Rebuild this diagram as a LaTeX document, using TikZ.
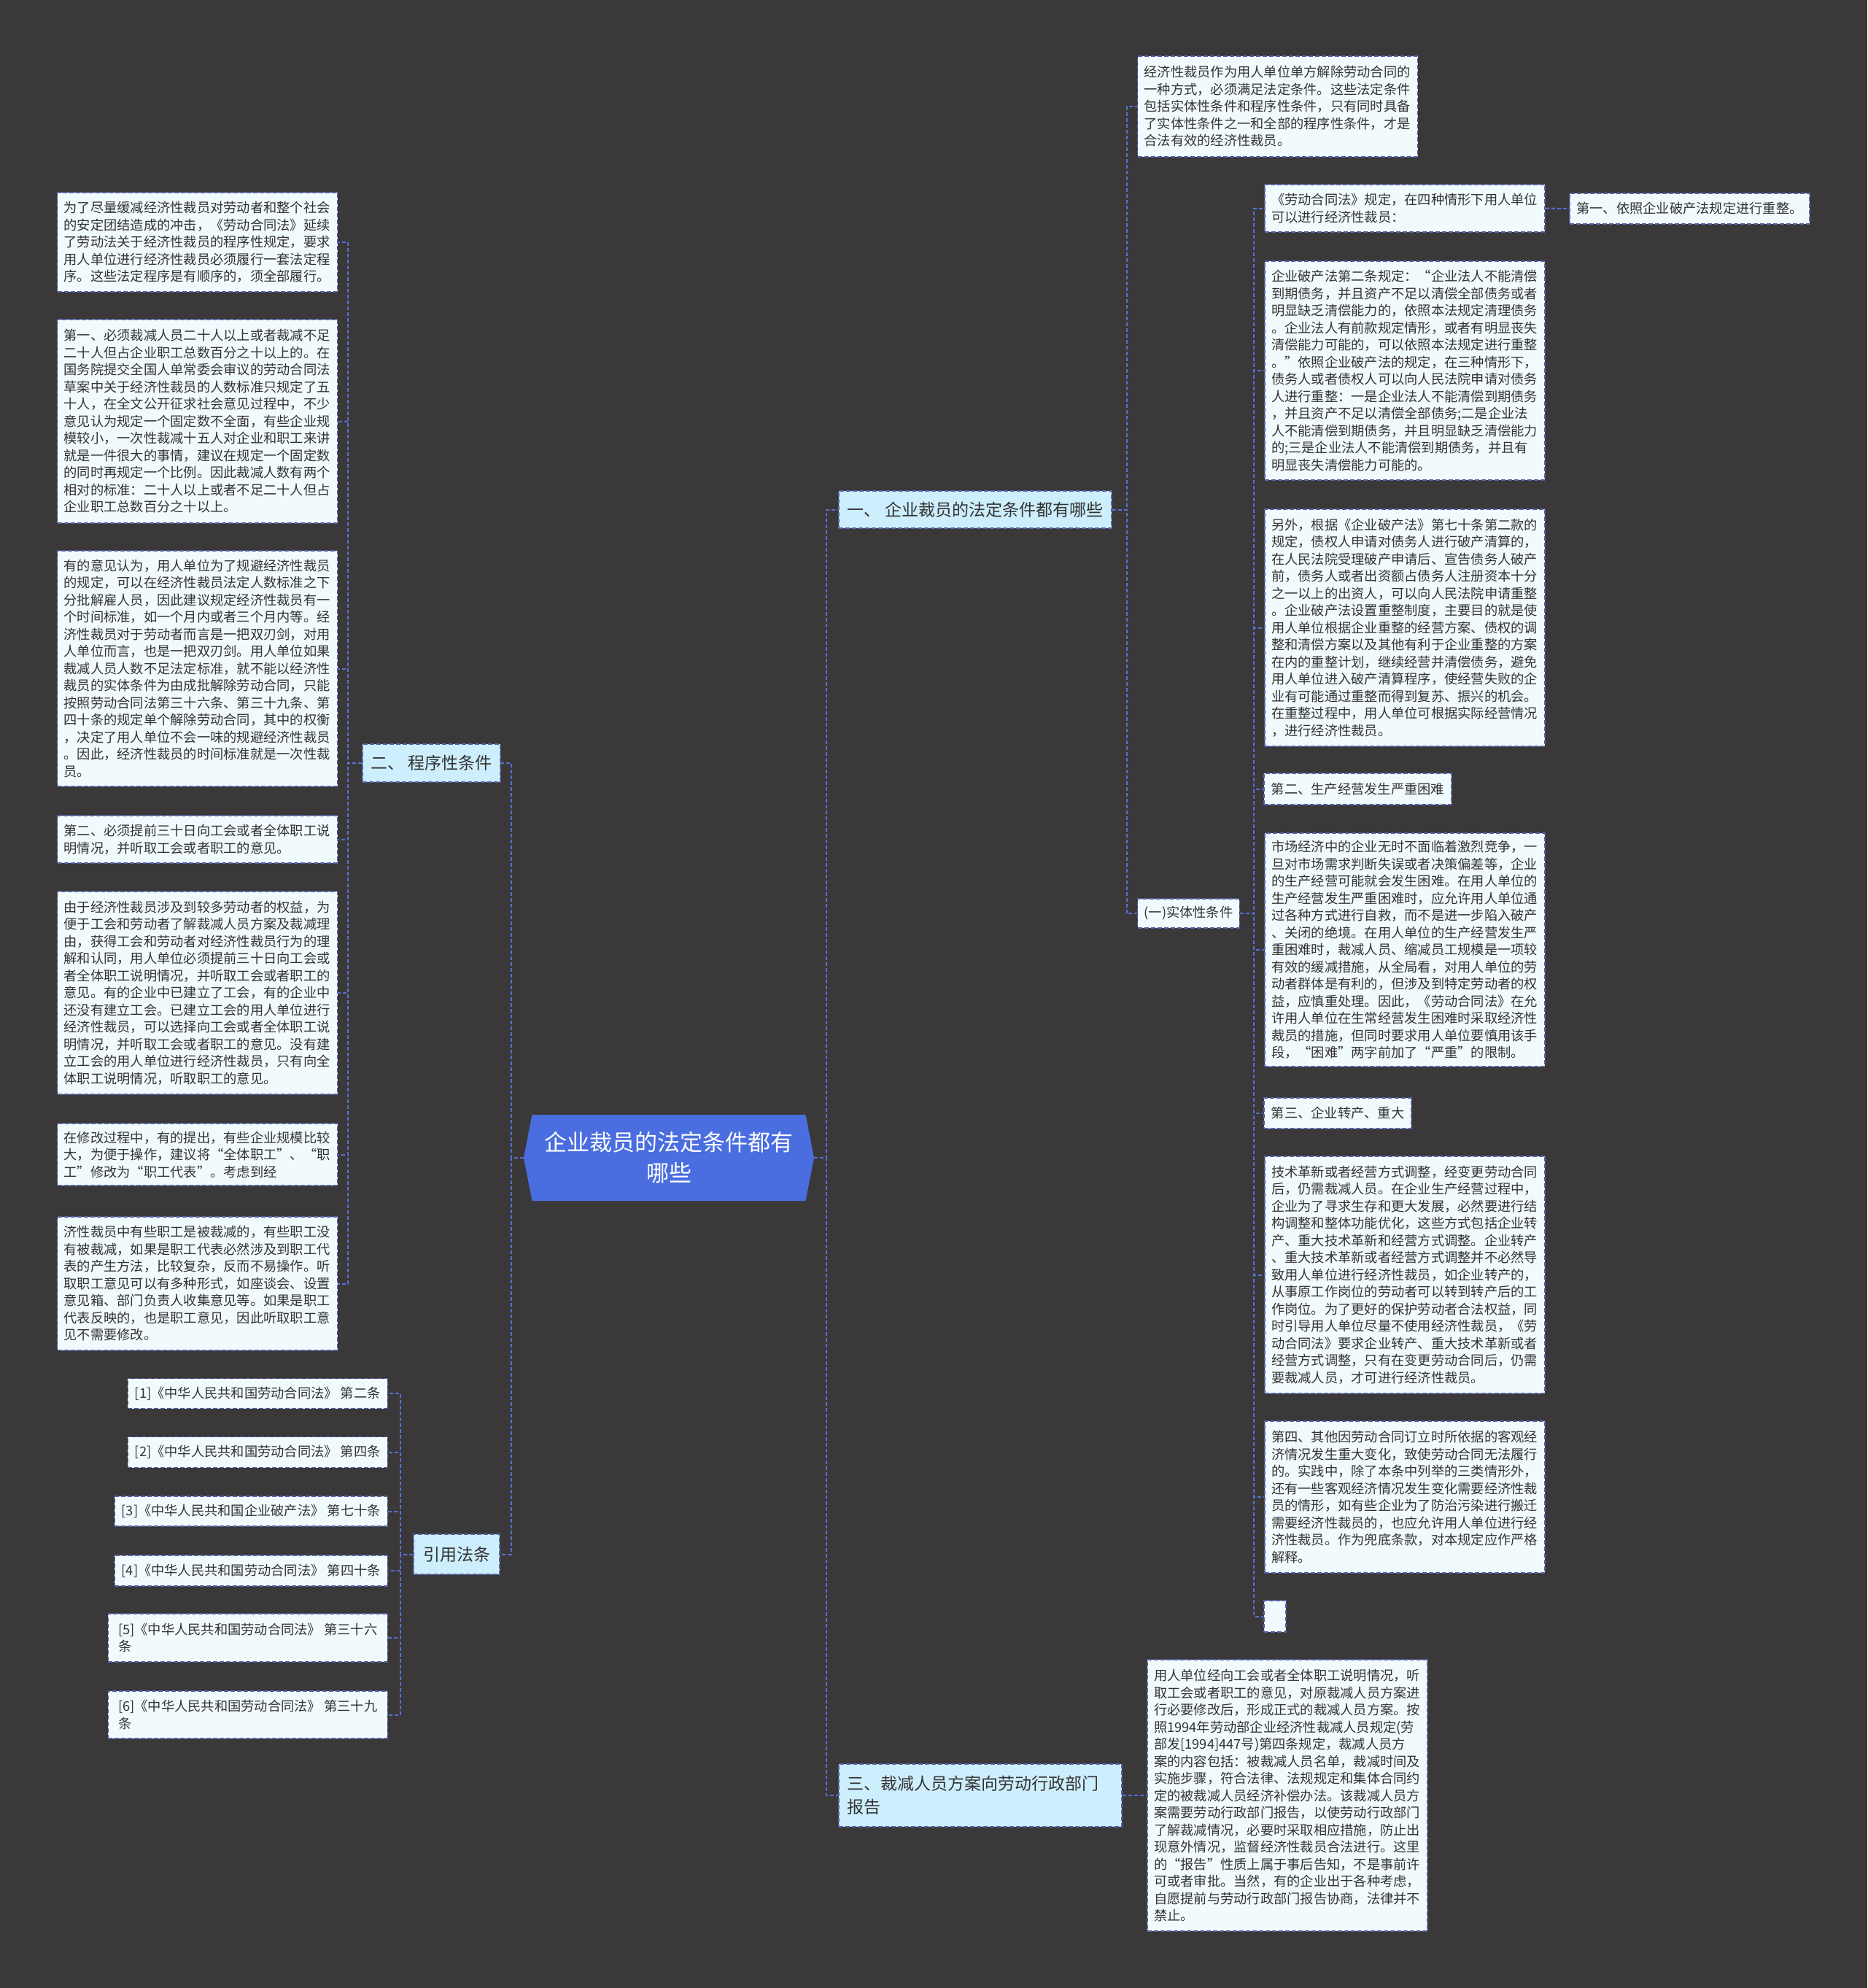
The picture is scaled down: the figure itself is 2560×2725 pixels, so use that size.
\documentclass[tikz,border=0pt]{standalone}
\usepackage{fontspec}
\setmainfont{Noto Sans CJK SC}
\usetikzlibrary{shapes.symbols}
\definecolor{bg}{HTML}{3A3839}
\definecolor{leaff}{HTML}{F1FAFD}
\definecolor{branchf}{HTML}{CDEEFC}
\definecolor{bordc}{HTML}{5563A8}
\definecolor{linec}{HTML}{5671D6}
\definecolor{centf}{HTML}{4A6EE0}
\definecolor{txt}{HTML}{333333}
\newcommand\leaffont{\fontsize{18.25}{23.5}\selectfont}
\newcommand\branchfont{\fontsize{23}{32}\selectfont}
\newcommand\centfont{\fontsize{31}{42}\selectfont}
\begin{document}
\begin{tikzpicture}[x=1pt,y=-1pt,
 box/.style={draw=bordc, line width=1.5pt, dash pattern=on 6pt off 3pt, text=txt, inner xsep=9pt, inner ysep=4pt},
 leaf/.style={box, fill=leaff, font=\leaffont, align=left, text width=366pt},
 small/.style={box, fill=leaff, font=\leaffont, align=left},
 branch/.style={box, fill=branchf, font=\branchfont, align=left},
 conn/.style={draw=linec, line width=2pt, dash pattern=on 5pt off 3pt},
]
\fill[bg] (0,0) rectangle (2560,2725);
\useasboundingbox (0,0) rectangle (2560,2725);

% centre
\node[signal, signal to=west and east, signal pointer angle=158, fill=centf, text=white, font=\centfont, align=center, minimum width=398pt, minimum height=118pt, inner sep=0pt] (C) at (917,1587) {企业裁员的法定条件都有\\哪些};

% branches
\node[branch, minimum width=374pt, minimum height=51pt] (B1) at (1337,698.5) {一、 企业裁员的法定条件都有哪些};
\node[branch, minimum width=189pt, minimum height=52pt] (B2) at (591.5,1046) {二、 程序性条件};
\node[branch, minimum width=118pt, minimum height=55pt] (B4) at (626,2130.5) {引用法条};
\node[branch, text width=366pt, inner xsep=11pt, minimum height=86pt] (B3) at (1344,2461) {三、裁减人员方案向劳动行政部门\\报告};

% left leaves
\node[leaf, minimum height=136pt] (L1) at (270.5,332) {为了尽量缓减经济性裁员对劳动者和整个社会\\的安定团结造成的冲击，《劳动合同法》延续\\了劳动法关于经济性裁员的程序性规定，要求\\用人单位进行经济性裁员必须履行一套法定程\\序。这些法定程序是有顺序的，须全部履行。};
\node[leaf, minimum height=279pt] (L2) at (270.5,577.5) {第一、必须裁减人员二十人以上或者裁减不足\\二十人但占企业职工总数百分之十以上的。在\\国务院提交全国人单常委会审议的劳动合同法\\草案中关于经济性裁员的人数标准只规定了五\\十人，在全文公开征求社会意见过程中，不少\\意见认为规定一个固定数不全面，有些企业规\\模较小，一次性裁减十五人对企业和职工来讲\\就是一件很大的事情，建议在规定一个固定数\\的同时再规定一个比例。因此裁减人数有两个\\相对的标准：二十人以上或者不足二十人但占\\企业职工总数百分之十以上。};
\node[leaf, minimum height=323pt] (L3) at (270.5,916.5) {有的意见认为，用人单位为了规避经济性裁员\\的规定，可以在经济性裁员法定人数标准之下\\分批解雇人员，因此建议规定经济性裁员有一\\个时间标准，如一个月内或者三个月内等。经\\济性裁员对于劳动者而言是一把双刃剑，对用\\人单位而言，也是一把双刃剑。用人单位如果\\裁减人员人数不足法定标准，就不能以经济性\\裁员的实体条件为由成批解除劳动合同，只能\\按照劳动合同法第三十六条、第三十九条、第\\四十条的规定单个解除劳动合同，其中的权衡\\，决定了用人单位不会一味的规避经济性裁员\\。因此，经济性裁员的时间标准就是一次性裁\\员。};
\node[leaf, minimum height=65pt] (L4) at (270.5,1150.5) {第二、必须提前三十日向工会或者全体职工说\\明情况，并听取工会或者职工的意见。};
\node[leaf, minimum height=278pt] (L5) at (270.5,1361) {由于经济性裁员涉及到较多劳动者的权益，为\\便于工会和劳动者了解裁减人员方案及裁减理\\由，获得工会和劳动者对经济性裁员行为的理\\解和认同，用人单位必须提前三十日向工会或\\者全体职工说明情况，并听取工会或者职工的\\意见。有的企业中已建立了工会，有的企业中\\还没有建立工会。已建立工会的用人单位进行\\经济性裁员，可以选择向工会或者全体职工说\\明情况，并听取工会或者职工的意见。没有建\\立工会的用人单位进行经济性裁员，只有向全\\体职工说明情况，听取职工的意见。};
\node[leaf, minimum height=85pt] (L6) at (270.5,1582.5) {在修改过程中，有的提出，有些企业规模比较\\大，为便于操作，建议将“全体职工”、“职\\工”修改为“职工代表”。考虑到经};
\node[leaf, minimum height=183pt] (L7) at (270.5,1759.5) {济性裁员中有些职工是被裁减的，有些职工没\\有被裁减，如果是职工代表必然涉及到职工代\\表的产生方法，比较复杂，反而不易操作。听\\取职工意见可以有多种形式，如座谈会、设置\\意见箱、部门负责人收集意见等。如果是职工\\代表反映的，也是职工意见，因此听取职工意\\见不需要修改。};

% references
\node[small, anchor=east, minimum width=356pt, minimum height=41pt] (R1) at (532,1910) {[1]《中华人民共和国劳动合同法》 第二条};
\node[small, anchor=east, minimum width=356pt, minimum height=42pt] (R2) at (532,1990.5) {[2]《中华人民共和国劳动合同法》 第四条};
\node[small, anchor=east, minimum width=374pt, minimum height=41pt] (R3) at (532,2071.5) {[3]《中华人民共和国企业破产法》 第七十条};
\node[small, anchor=east, minimum width=374pt, minimum height=42pt] (R4) at (532,2153) {[4]《中华人民共和国劳动合同法》 第四十条};
\node[small, anchor=east, minimum width=383pt, minimum height=66pt] (R5) at (532,2245) {[5]《中华人民共和国劳动合同法》 第三十六\\条};
\node[small, anchor=east, minimum width=383pt, minimum height=65pt] (R6) at (532,2350.5) {[6]《中华人民共和国劳动合同法》 第三十九\\条};

% right side
\node[leaf, minimum height=138pt] (T) at (1751.5,146) {经济性裁员作为用人单位单方解除劳动合同的\\一种方式，必须满足法定条件。这些法定条件\\包括实体性条件和程序性条件，只有同时具备\\了实体性条件之一和全部的程序性条件，才是\\合法有效的经济性裁员。};
\node[small, minimum width=137pt, minimum height=40pt] (S) at (1629.5,1252) {(一)实体性条件};
\node[leaf, minimum height=65pt] (a) at (1926,285.5) {《劳动合同法》规定，在四种情形下用人单位\\可以进行经济性裁员：};
\node[small, minimum width=329pt, minimum height=42pt] (a1) at (2316.5,286) {第一、依照企业破产法规定进行重整。};
\node[leaf, minimum height=300pt] (b) at (1926,508) {企业破产法第二条规定：“企业法人不能清偿\\到期债务，并且资产不足以清偿全部债务或者\\明显缺乏清偿能力的，依照本法规定清理债务\\。企业法人有前款规定情形，或者有明显丧失\\清偿能力可能的，可以依照本法规定进行重整\\。”依照企业破产法的规定，在三种情形下，\\债务人或者债权人可以向人民法院申请对债务\\人进行重整：一是企业法人不能清偿到期债务\\，并且资产不足以清偿全部债务;二是企业法\\人不能清偿到期债务，并且明显缺乏清偿能力\\的;三是企业法人不能清偿到期债务，并且有\\明显丧失清偿能力可能的。};
\node[leaf, minimum height=325pt] (c) at (1926,860.5) {另外，根据《企业破产法》第七十条第二款的\\规定，债权人申请对债务人进行破产清算的，\\在人民法院受理破产申请后、宣告债务人破产\\前，债务人或者出资额占债务人注册资本十分\\之一以上的出资人，可以向人民法院申请重整\\。企业破产法设置重整制度，主要目的就是使\\用人单位根据企业重整的经营方案、债权的调\\整和清偿方案以及其他有利于企业重整的方案\\在内的重整计划，继续经营并清偿债务，避免\\用人单位进入破产清算程序，使经营失败的企\\业有可能通过重整而得到复苏、振兴的机会。\\在重整过程中，用人单位可根据实际经营情况\\，进行经济性裁员。};
\node[small, minimum width=257pt, minimum height=43pt] (d) at (1861.5,1081.5) {第二、生产经营发生严重困难};
\node[leaf, minimum height=320pt] (e) at (1926,1302) {市场经济中的企业无时不面临着激烈竞争，一\\旦对市场需求判断失误或者决策偏差等，企业\\的生产经营可能就会发生困难。在用人单位的\\生产经营发生严重困难时，应允许用人单位通\\过各种方式进行自救，而不是进一步陷入破产\\、关闭的绝境。在用人单位的生产经营发生严\\重困难时，裁减人员、缩减员工规模是一项较\\有效的缓减措施，从全局看，对用人单位的劳\\动者群体是有利的，但涉及到特定劳动者的权\\益，应慎重处理。因此，《劳动合同法》在允\\许用人单位在生常经营发生困难时采取经济性\\裁员的措施，但同时要求用人单位要慎用该手\\段，“困难”两字前加了“严重”的限制。};
\node[small, minimum width=202pt, minimum height=42pt] (f) at (1834,1526) {第三、企业转产、重大};
\node[leaf, minimum height=325pt] (g) at (1926,1747.5) {技术革新或者经营方式调整，经变更劳动合同\\后，仍需裁减人员。在企业生产经营过程中，\\企业为了寻求生存和更大发展，必然要进行结\\构调整和整体功能优化，这些方式包括企业转\\产、重大技术革新和经营方式调整。企业转产\\、重大技术革新或者经营方式调整并不必然导\\致用人单位进行经济性裁员，如企业转产的，\\从事原工作岗位的劳动者可以转到转产后的工\\作岗位。为了更好的保护劳动者合法权益，同\\时引导用人单位尽量不使用经济性裁员，《劳\\动合同法》要求企业转产、重大技术革新或者\\经营方式调整，只有在变更劳动合同后，仍需\\要裁减人员，才可进行经济性裁员。};
\node[leaf, minimum height=208pt] (h) at (1926,2052) {第四、其他因劳动合同订立时所依据的客观经\\济情况发生重大变化，致使劳动合同无法履行\\的。实践中，除了本条中列举的三类情形外，\\还有一些客观经济情况发生变化需要经济性裁\\员的情形，如有些企业为了防治污染进行搬迁\\需要经济性裁员的，也应允许用人单位进行经\\济性裁员。作为兜底条款，对本规定应作严格\\解释。};
\node[small, minimum width=30pt, minimum height=43pt] (i) at (1748,2215.5) {};
\node[leaf, minimum height=372pt] (BB) at (1765,2461) {用人单位经向工会或者全体职工说明情况，听\\取工会或者职工的意见，对原裁减人员方案进\\行必要修改后，形成正式的裁减人员方案。按\\照1994年劳动部企业经济性裁减人员规定(劳\\部发[1994]447号)第四条规定，裁减人员方\\案的内容包括：被裁减人员名单，裁减时间及\\实施步骤，符合法律、法规规定和集体合同约\\定的被裁减人员经济补偿办法。该裁减人员方\\案需要劳动行政部门报告，以使劳动行政部门\\了解裁减情况，必要时采取相应措施，防止出\\现意外情况，监督经济性裁员合法进行。这里\\的“报告”性质上属于事后告知，不是事前许\\可或者审批。当然，有的企业出于各种考虑，\\自愿提前与劳动行政部门报告协商，法律并不\\禁止。};

% connectors
\draw[conn] (C.east) -- ++(17,0) |- (B1.west);
\draw[conn] (C.east) -- ++(17,0) |- (B3.west);
\draw[conn] (C.west) -- ++(-17,0) |- (B2.east);
\draw[conn] (C.west) -- ++(-17,0) |- (B4.east);
\draw[conn] (B1.east) -- ++(20,0) |- (T.west);
\draw[conn] (B1.east) -- ++(20,0) |- (S.west);
\foreach \n in {a,b,c,d,e,f,g,h,i} \draw[conn] (S.east) -- ++(19,0) |- (\n.west);
\draw[conn] (a.east) -- (a1.west);
\foreach \n in {L1,L2,L3,L4,L5,L6,L7} \draw[conn] (B2.west) -- ++(-19,0) |- (\n.east);
\foreach \n in {R1,R2,R3,R4,R5,R6} \draw[conn] (B4.west) -- ++(-17,0) |- (\n.east);
\draw[conn] (B3.east) -- (BB.west);
\end{tikzpicture}
\end{document}
